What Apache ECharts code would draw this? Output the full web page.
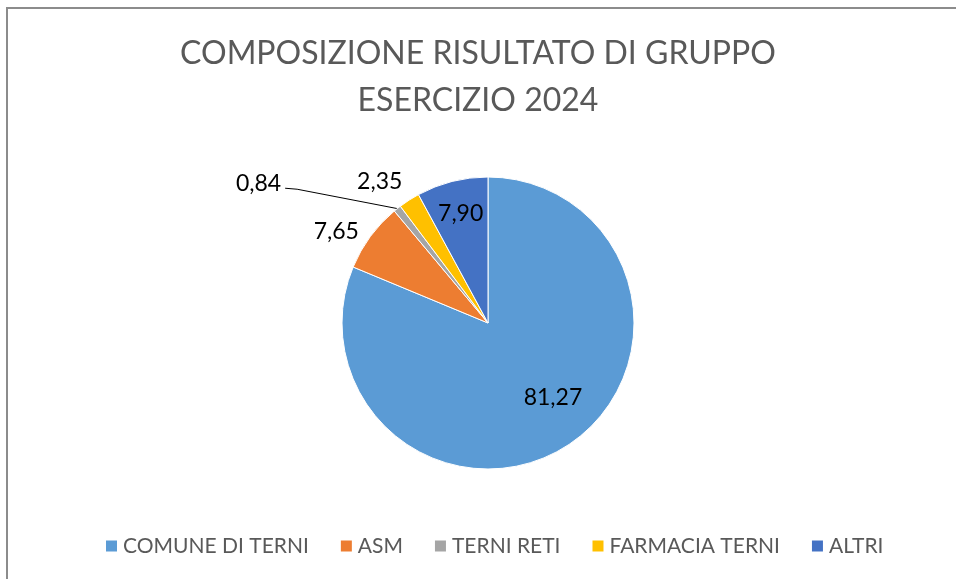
<!doctype html>
<html>
<head>
<meta charset="utf-8">
<title>Composizione risultato di gruppo 2024</title>
<script src="https://cdn.jsdelivr.net/npm/echarts@6/dist/echarts.min.js"></script>
<style>
html,body{margin:0;padding:0;background:#fff;}
#main{width:956px;height:579px;}
</style>
</head>
<body>
<div id="main"></div>
<script>
// dati
var categorie = ['COMUNE DI TERNI', 'ASM', 'TERNI RETI', 'FARMACIA TERNI', 'ALTRI'];
var valori = [81.27, 7.65, 0.84, 2.35, 7.90];
var colori = ['#5B9BD5', '#ED7D31', '#A5A5A5', '#FFC000', '#4472C4'];

// posizione etichette (layout, non dati)
var centro = [488, 323];
var raggio = 146;
// etichette interne: distanza dal centro e angolo (gradi, orario dalle 12)
var etichetteInterne = {
    'COMUNE DI TERNI': {r: 99, ang: 139},
    'ALTRI': {r: 113, ang: 346}
};
var etichetteEsterne = {
    'ASM': {length: 8, length2: 0, dist: 5, linea: false},
    'TERNI RETI': {length: 26, length2: 96, dist: 4, linea: true},
    'FARMACIA TERNI': {length: 22, length2: 0, dist: -5, linea: false}
};

var fontTesto = 'Lato, "Liberation Sans", sans-serif';

var dati = [];
for (var i = 0; i < categorie.length; i++) {
    var d = {name: categorie[i], value: valori[i], itemStyle: {color: colori[i]}};
    var est = etichetteEsterne[categorie[i]];
    if (est) {
        d.label = {position: 'outside', distanceToLabelLine: est.dist};
        d.labelLine = {show: est.linea, length: est.length, length2: est.length2,
            lineStyle: {color: '#000', width: 1}};
    }
    dati.push(d);
}

var grafico = echarts.init(document.getElementById('main'), null, {renderer: 'canvas'});

grafico.setOption({
    backgroundColor: '#fff',
    animation: false,
    title: {
        text: 'COMPOSIZIONE RISULTATO DI GRUPPO\nESERCIZIO 2024',
        left: 'center',
        top: 30,
        padding: 0,
        textStyle: {
            fontFamily: fontTesto,
            fontSize: 32,
            fontWeight: 'normal',
            lineHeight: 47,
            color: '#595959'
        }
    },
    legend: {
        data: categorie,
        left: 104,
        top: 533,
        padding: 0,
        icon: 'rect',
        itemWidth: 13,
        itemHeight: 13,
        itemGap: 30,
        textStyle: {
            fontFamily: fontTesto,
            fontSize: 21,
            lineHeight: 26,
            color: '#595959'
        }
    },
    graphic: [{
        type: 'rect',
        silent: true,
        shape: {x: 7, y: 8, width: 1000, height: 1000},
        style: {fill: 'none', stroke: '#8c8c8c', lineWidth: 2}
    }],
    series: [{
        name: 'Risultato',
        type: 'pie',
        center: centro,
        radius: raggio,
        startAngle: 90,
        clockwise: true,
        avoidLabelOverlap: false,
        itemStyle: {borderColor: '#fff', borderWidth: 1},
        label: {
            show: true,
            position: 'inside',
            fontFamily: fontTesto,
            fontSize: 23,
            color: '#000',
            formatter: function (p) {
                return p.value.toFixed(2).replace('.', ',');
            }
        },
        labelLayout: function (p) {
            var nome = categorie[p.dataIndex];
            var e = etichetteInterne[nome];
            if (e) {
                var a = e.ang * Math.PI / 180;
                var tx = centro[0] + e.r * Math.sin(a);
                var ty = centro[1] - e.r * Math.cos(a);
                var lx = p.labelRect.x + p.labelRect.width / 2;
                var ly = p.labelRect.y + p.labelRect.height / 2;
                return {dx: tx - lx, dy: ty - ly};
            }
            if (nome === 'TERNI RETI' && p.labelLinePoints) {
                var pts = p.labelLinePoints;
                return {
                    dy: -5,
                    labelLinePoints: [pts[0], [pts[2][0] + 12, pts[2][1] + 1], pts[2]]
                };
            }
            return {};
        },
        data: dati
    }]
});
</script>
</body>
</html>
